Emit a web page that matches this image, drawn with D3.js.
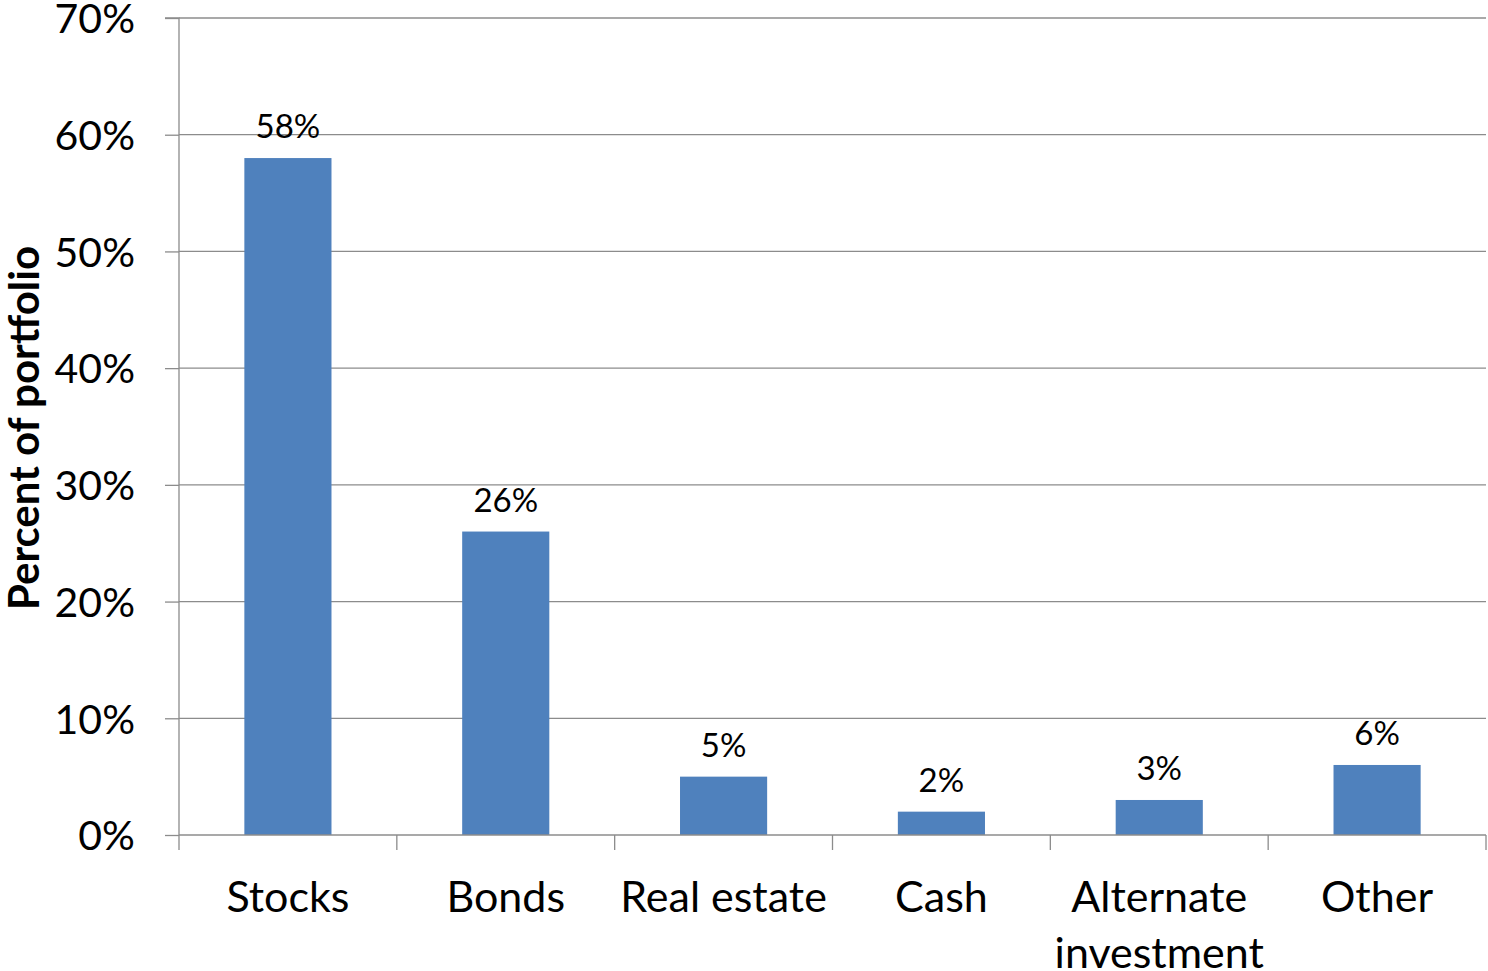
<!DOCTYPE html>
<html>
<head>
<meta charset="utf-8">
<script src="https://cdn.jsdelivr.net/npm/d3@7"></script>
<style>
  html, body { margin: 0; padding: 0; background: #fff; }
  svg { display: block; }
  text { font-family: Lato, "Open Sans", sans-serif; fill: #000; }
</style>
</head>
<body>
<svg id="chart" width="1488" height="971"></svg>
<script>
// Portfolio allocation by asset class
const categories = ["Stocks", "Bonds", "Real estate", "Cash", "Alternate investment", "Other"];
const categoryLines = [["Stocks"], ["Bonds"], ["Real estate"], ["Cash"], ["Alternate", "investment"], ["Other"]];
const values = [58, 26, 5, 2, 3, 6];
const yTicks = [0, 10, 20, 30, 40, 50, 60, 70];
const yTitle = "Percent of portfolio";

const W = 1488, H = 971;
const margin = { top: 18, right: 2, bottom: 136, left: 179 };
const innerW = W - margin.left - margin.right;
const innerH = H - margin.top - margin.bottom;
const gridColor = "#8c8c8c";
const barColor = "#4f81bd";

const svg = d3.select("#chart");
const g = svg.append("g").attr("transform", `translate(${margin.left},${margin.top})`);

const x = d3.scaleBand().domain(categories).range([0, innerW]).padding(0);
const y = d3.scaleLinear().domain([0, 70]).range([innerH, 0]);
const barW = x.bandwidth() * 0.4;

// horizontal gridlines
g.append("g").selectAll("line").data(yTicks.filter(t => t > 0)).join("line")
  .attr("x1", 0).attr("x2", innerW)
  .attr("y1", d => y(d)).attr("y2", d => y(d))
  .attr("stroke", gridColor).attr("stroke-width", 1.3);

// y axis
const yAxis = g.append("g")
  .call(d3.axisLeft(y).tickValues(yTicks).tickFormat(d => d + "%").tickSize(14).tickPadding(30));
yAxis.select(".domain").attr("stroke", gridColor).attr("stroke-width", 1.3).attr("d", `M-14,0H0V${innerH}`);
yAxis.selectAll(".tick line").attr("stroke", gridColor).attr("stroke-width", 1.3);
yAxis.selectAll(".tick text").attr("font-size", 41).attr("font-family", "Lato, sans-serif").attr("fill", "#000").attr("dy", "0.36em");

// bars
g.append("g").selectAll("rect").data(values).join("rect")
  .attr("x", (d, i) => x(categories[i]) + (x.bandwidth() - barW) / 2)
  .attr("y", d => y(d))
  .attr("width", barW)
  .attr("height", d => y(0) - y(d))
  .attr("fill", barColor);

// x axis with boundary ticks
const xAxis = g.append("g").attr("transform", `translate(0,${innerH})`);
xAxis.append("line").attr("x1", 0).attr("x2", innerW).attr("stroke", gridColor).attr("stroke-width", 1.3);
const bounds = categories.map(c => x(c)).concat([innerW]);
xAxis.selectAll("line.tk").data(bounds).join("line").attr("class", "tk")
  .attr("x1", d => d).attr("x2", d => d).attr("y1", 0).attr("y2", 15)
  .attr("stroke", gridColor).attr("stroke-width", 1.3);

// category labels
const catText = xAxis.selectAll("text.cat").data(categoryLines).join("text").attr("class", "cat")
  .attr("x", (d, i) => x(categories[i]) + x.bandwidth() / 2)
  .attr("y", 77)
  .attr("text-anchor", "middle")
  .attr("font-size", 43);
catText.selectAll("tspan").data(d => d).join("tspan")
  .attr("x", function () { return d3.select(this.parentNode).attr("x"); })
  .attr("dy", (d, i) => i === 0 ? 0 : 56)
  .text(d => d);

// value labels
g.append("g").selectAll("text").data(values).join("text")
  .attr("x", (d, i) => x(categories[i]) + x.bandwidth() / 2)
  .attr("y", d => y(d) - 20)
  .attr("text-anchor", "middle")
  .attr("font-size", 33)
  .text(d => d + "%");

// y axis title
svg.append("text")
  .attr("transform", `translate(39,428) rotate(-90)`)
  .attr("text-anchor", "middle")
  .attr("font-size", 42)
  .attr("font-weight", "bold")
  .text(yTitle);
</script>
</body>
</html>
